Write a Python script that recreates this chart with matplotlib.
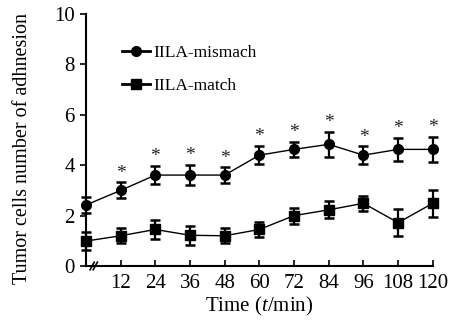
import matplotlib
matplotlib.use("Agg")
import matplotlib.pyplot as plt
from matplotlib.lines import Line2D

plt.rcParams['font.family'] = ['Liberation Serif', 'DejaVu Serif']
plt.rcParams['mathtext.fontset'] = 'custom'
plt.rcParams['mathtext.it'] = 'Liberation Serif:italic'
plt.rcParams['mathtext.rm'] = 'Liberation Serif'

time = [0, 12, 24, 36, 48, 60, 72, 84, 96, 108, 120]
mismatch = [2.42, 3.0, 3.61, 3.61, 3.61, 4.4, 4.63, 4.83, 4.4, 4.63, 4.63]
mismatch_err = [0.3, 0.32, 0.36, 0.4, 0.32, 0.37, 0.3, 0.5, 0.36, 0.47, 0.5]
match = [0.99, 1.2, 1.45, 1.22, 1.2, 1.45, 2.0, 2.23, 2.49, 1.72, 2.49]
match_err = [0.35, 0.3, 0.38, 0.37, 0.3, 0.3, 0.32, 0.34, 0.3, 0.54, 0.53]
significant = [False, True, True, True, True, True, True, True, True, True, True]
xticks = [12, 24, 36, 48, 60, 72, 84, 96, 108, 120]
yticks = [0, 2, 4, 6, 8, 10]
labels = ['IILA-mismach', 'IILA-match']

fig = plt.figure(figsize=(4.72, 3.28), dpi=100)
ax = fig.add_axes([0.182, 0.189, 0.735, 0.768])

ax.errorbar(time, mismatch, yerr=mismatch_err, color='black', marker='o',
            markersize=7, linewidth=1.0, elinewidth=1.6, capsize=3.5,
            capthick=1.8, clip_on=False, zorder=3)
ax.errorbar(time, match, yerr=match_err, color='black', marker='s',
            markersize=7.5, linewidth=1.0, elinewidth=1.6, capsize=3.5,
            capthick=1.8, clip_on=False, zorder=3)

for t, v, e, s in zip(time, mismatch, mismatch_err, significant):
    if s:
        ax.text(t, v + e + 0.02, '*', ha='center', va='bottom', fontsize=14,
                color='#222222')

ax.set_xlim(0, 120)
ax.set_ylim(0, 10)
ax.set_xticks(xticks)
ax.set_yticks(yticks)
ax.tick_params(axis='x', direction='in', length=4, width=1.2, labelsize=15, pad=6)
ax.tick_params(axis='y', direction='out', length=4, width=1.2, labelsize=15, pad=4)
for side in ['top', 'right']:
    ax.spines[side].set_visible(False)
for side in ['left', 'bottom']:
    ax.spines[side].set_linewidth(1.5)

ax.set_xlabel('Time ($\\mathit{t}$/min)', fontsize=15, labelpad=1)
ax.set_ylabel('Tumor cells number of adhnesion', fontsize=14.5)
ax.yaxis.set_label_coords(-0.155, 0.468)

# axis break marks
for dx in (0.0, 0.009):
    ax.plot([0.012 + dx, 0.024 + dx], [-0.015, 0.015], transform=ax.transAxes,
            color='black', linewidth=1.2, clip_on=False)

handles = [Line2D([], [], color='black', marker='o', markersize=7, linewidth=2.0),
           Line2D([], [], color='black', marker='s', markersize=7.5, linewidth=2.0)]
ax.legend(handles, labels, loc='upper left', bbox_to_anchor=(0.06, 0.94),
          frameon=False, fontsize=12.5, handlelength=1.6, labelspacing=0.95,
          handletextpad=0.2)

fig.savefig('out.png', dpi=100)
